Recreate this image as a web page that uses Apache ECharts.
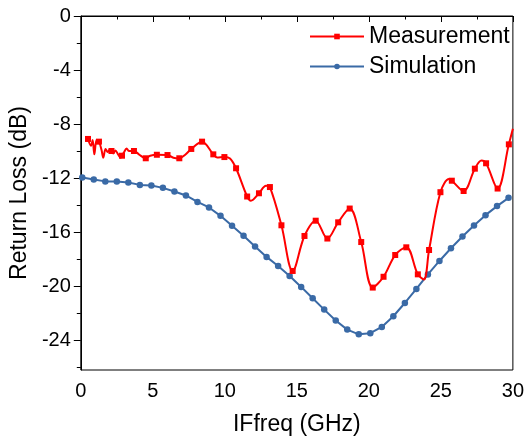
<!DOCTYPE html>
<html>
<head>
<meta charset="utf-8">
<script src="https://cdn.jsdelivr.net/npm/echarts@6/dist/echarts.min.js"></script>
<style>html,body{margin:0;padding:0;background:#fff;}#c{width:527px;height:441px;}</style>
</head>
<body>
<div id="c"></div>
<script>
// Simulation (circle markers)
const simX = [0.1,0.9,1.7,2.5,3.3,4.1,4.9,5.7,6.5,7.3,8.1,8.9,9.7,10.5,11.3,12.1,12.9,13.7,14.5,15.3,16.1,16.9,17.7,18.5,19.3,20.1,20.9,21.7,22.5,23.3,24.1,24.9,25.7,26.5,27.3,28.1,28.9,29.7];
const simY = [-11.95,-12.1,-12.24,-12.24,-12.32,-12.5,-12.54,-12.72,-12.99,-13.28,-13.76,-14.17,-14.79,-15.53,-16.27,-17.06,-17.83,-18.5,-19.24,-20.05,-20.89,-21.73,-22.54,-23.21,-23.56,-23.48,-23.01,-22.22,-21.24,-20.2,-19.13,-18.13,-17.19,-16.32,-15.5,-14.74,-14.07,-13.46];

// Measurement: points carrying square markers
const measMarkX = [0.50,1.26,2.13,2.86,3.69,4.51,5.28,6.02,6.84,7.67,8.42,9.20,9.97,10.78,11.55,12.37,13.13,13.93,14.71,15.53,16.31,17.12,17.87,18.67,19.47,20.27,21.02,21.83,22.60,23.40,24.18,24.97,25.76,26.58,27.36,28.14,28.94,29.72];
const measMarkY = [-9.10,-9.30,-9.99,-10.34,-9.99,-10.53,-10.27,-10.29,-10.53,-9.84,-9.30,-10.24,-10.44,-11.27,-13.36,-13.12,-12.66,-15.49,-18.87,-16.28,-15.15,-16.47,-15.27,-14.25,-16.73,-20.10,-19.30,-17.69,-17.12,-19.12,-17.32,-13.04,-12.19,-12.95,-11.30,-10.90,-12.77,-9.50];
// Measurement: intermediate curve points (no marker)
const measCurveX = [0.71,0.82,0.94,1.10,1.44,1.56,1.72,1.87,2.04,2.26,2.40,2.59,2.77,3.00,3.18,3.34,4.03,4.82,6.43,7.23,9.46,10.36,11.81,12.86,23.82,25.57,27.82,30.0];
const measCurveY = [-9.60,-9.18,-10.24,-9.18,-9.92,-10.49,-9.84,-10.07,-9.84,-10.17,-9.95,-10.24,-10.49,-10.09,-9.80,-9.99,-10.24,-10.34,-10.49,-10.29,-10.47,-10.54,-13.67,-12.56,-19.50,-12.07,-10.70,-8.35];

const yTickValues = [0,-4,-8,-12,-16,-20,-24];
const yMinorTickValues = [-2,-6,-10,-14,-18,-22,-26];

const FONT = 'Liberation Sans, Arial, sans-serif';

const measData = [];
measMarkX.forEach((x, i) => measData.push({value: [x, measMarkY[i]], symbol: 'rect'}));
measCurveX.forEach((x, i) => measData.push({value: [x, measCurveY[i]], symbol: 'none'}));
measData.sort((a, b) => a.value[0] - b.value[0]);
const simData = simX.map((x, i) => [x, simY[i]]);

const chart = echarts.init(document.getElementById('c'), null, {renderer: 'canvas'});
chart.setOption({
  animation: false,
  backgroundColor: '#fff',
  grid: {left: 79, right: 11, top: 16, bottom: 71, show: true, borderColor: '#000', borderWidth: 1, backgroundColor: 'transparent'},
  legend: {
    orient: 'vertical', left: 309, top: 25, padding: 0, itemWidth: 54, itemHeight: 7, itemGap: 7,
    data: ['Measurement', 'Simulation'],
    textStyle: {fontFamily: FONT, fontSize: 23, color: '#000', lineHeight: 23}
  },
  xAxis: {
    type: 'value', min: 0, max: 30, interval: 5,
    axisLine: {show: true, lineStyle: {color: '#000', width: 1}},
    axisTick: {show: true, inside: false, length: 6, lineStyle: {color: '#000'}},
    minorTick: {show: true, splitNumber: 2, length: 3.5, lineStyle: {color: '#000'}},
    splitLine: {show: false}, minorSplitLine: {show: false},
    axisLabel: {fontFamily: FONT, fontSize: 20, color: '#000', margin: 11},
    name: 'IFfreq (GHz)', nameLocation: 'middle', nameGap: 43,
    nameTextStyle: {fontFamily: FONT, fontSize: 23, color: '#000'}
  },
  yAxis: [{
    type: 'value', min: -26.2, max: 0,
    axisLine: {show: true, lineStyle: {color: '#000', width: 1}},
    axisTick: {show: true, inside: false, length: 7, customValues: yTickValues, lineStyle: {color: '#000'}},
    axisLabel: {customValues: yTickValues, fontFamily: FONT, fontSize: 20, color: '#000', margin: 10},
    splitLine: {show: false},
    name: 'Return Loss (dB)', nameLocation: 'middle', nameGap: 45,
    nameTextStyle: {fontFamily: FONT, fontSize: 23, color: '#000'}
  }, {
    type: 'value', min: -26.2, max: 0, position: 'left',
    axisLine: {show: false},
    axisTick: {show: true, inside: false, length: 4, customValues: yMinorTickValues, lineStyle: {color: '#000'}},
    axisLabel: {show: false},
    splitLine: {show: false}
  }],
  series: [{
    name: 'Measurement', type: 'line', data: measData, smooth: 0.35,
    symbol: 'rect', symbolSize: 6, showSymbol: true,
    lineStyle: {color: '#ff0000', width: 2}, itemStyle: {color: '#ff0000'},
    z: 3
  }, {
    name: 'Simulation', type: 'line', data: simData, smooth: false,
    symbol: 'circle', symbolSize: 6.5,
    lineStyle: {color: '#3a6aa6', width: 2}, itemStyle: {color: '#3a6aa6'},
    z: 2
  }]
});
</script>
</body>
</html>
